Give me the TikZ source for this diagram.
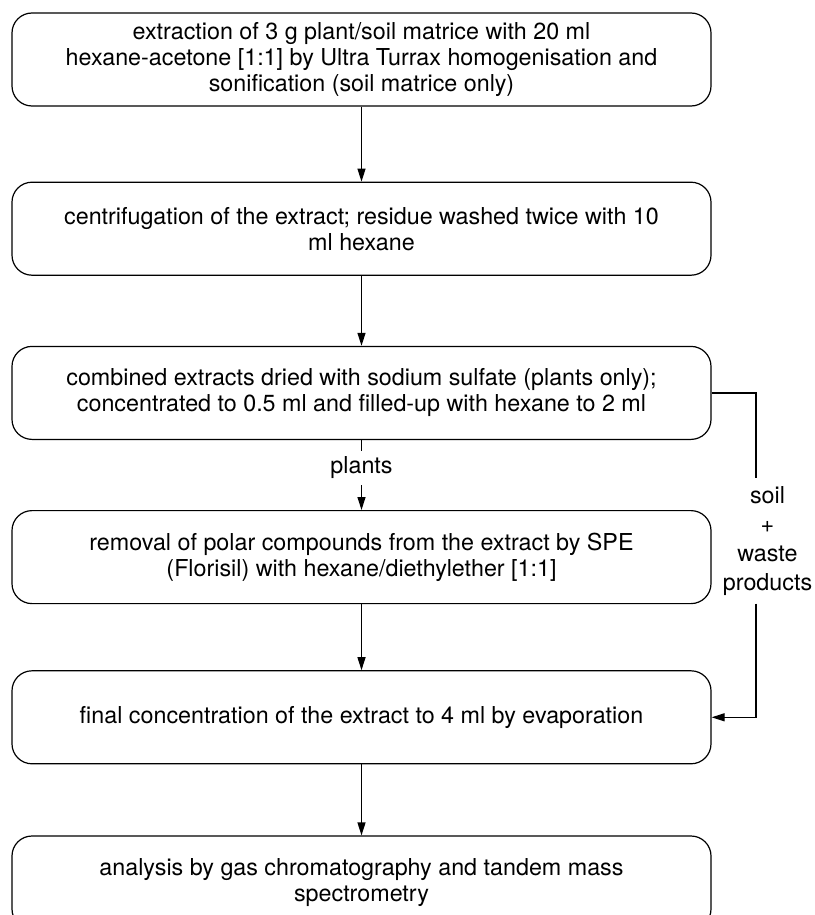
\documentclass[tikz,border=0pt]{standalone}
\usepackage{fontspec}
\setmainfont{TeX Gyre Heros}
\usepackage{tikz}
\usetikzlibrary{arrows.meta}
\usetikzlibrary{positioning}

\begin{document}
\begin{tikzpicture}[
		x=1pt, y=-1pt,
		stepbox/.style={draw, line width=1.2pt, rounded corners=20pt, minimum width=699pt, minimum height=93pt, align=center, font=\fontsize{23.3}{26}\selectfont},
		flow/.style={-{Triangle[length=13pt,width=8pt]}, line width=1.2pt}
	]
	\useasboundingbox (0,0) rectangle (814,915);
	\node[stepbox] (S1) at (361.5,59.5) {extraction of 3 g plant/soil matrice with 20 ml\\hexane-acetone [1:1] by Ultra Turrax homogenisation and\\sonification (soil matrice only)};
	\node[stepbox] (S2) [below=75pt of S1] {centrifugation of the extract; residue washed twice with 10\\ml hexane};
	\node[stepbox] (S3) [below=70pt of S2] {combined extracts dried with sodium sulfate (plants only);\\concentrated to 0.5 ml and filled-up with hexane to 2 ml};
	\node[stepbox] (S4) [below=70pt of S3] {removal of polar compounds from the extract by SPE\\(Florisil) with hexane/diethylether [1:1]};
	\node[stepbox] (S5) [below=66pt of S4] {final concentration of the extract to 4 ml by evaporation};
	\node[stepbox] (S6) [below=71pt of S5] {analysis by gas chromatography and tandem mass\\spectrometry};
	\foreach \i/\j in {1/2, 2/3, 4/5, 5/6} {
			\draw[flow] (S\i) -- (S\j);
		}
	% plants branch
	\draw[flow] (S3) -- node[pos=0.4, fill=white, inner sep=6pt, font=\fontsize{23.3}{26}\selectfont] (P) {plants} (S4);
	% soil branch bypasses the SPE step
	\node (W) [align=center, inner sep=8pt, font=\fontsize{23.3}{29}\selectfont] at (767.5,541) {soil\\+\\waste\\products};
	\draw[line width=1.2pt] (S3.east) -| ([xshift=-11.5pt]W.north);
	\draw[flow] ([xshift=-11.5pt]W.south) |- (S5.east);
\end{tikzpicture}
\end{document}
